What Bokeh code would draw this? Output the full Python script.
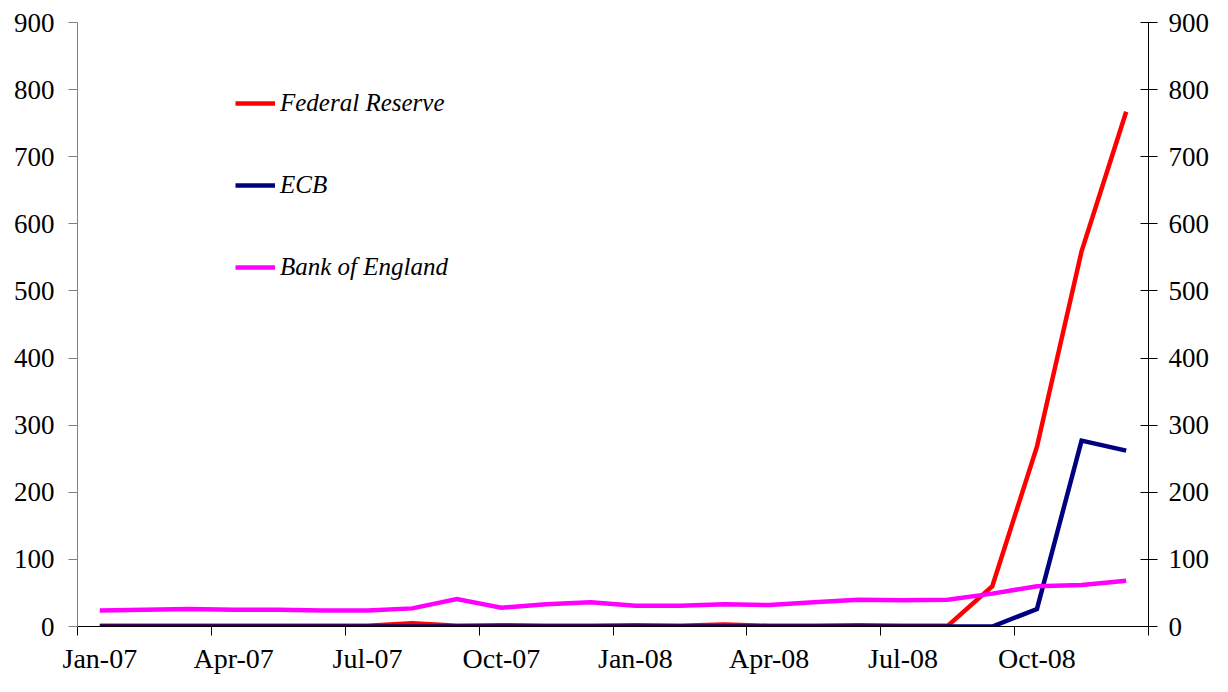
from bokeh.plotting import figure
from bokeh.models import (Range1d, LinearAxis, FixedTicker, Legend, LegendItem,
                          ColumnDataSource)
from bokeh.embed import file_html
from bokeh.resources import INLINE

months = ["Jan-07", "Feb-07", "Mar-07", "Apr-07", "May-07", "Jun-07",
          "Jul-07", "Aug-07", "Sep-07", "Oct-07", "Nov-07", "Dec-07",
          "Jan-08", "Feb-08", "Mar-08", "Apr-08", "May-08", "Jun-08",
          "Jul-08", "Aug-08", "Sep-08", "Oct-08", "Nov-08", "Dec-08"]
fed = [1, 1, 1, 1, 1, 1, 1, 5, 1, 2, 1, 1,
       2, 1, 3, 1, 1, 2, 1, 1, 60, 268, 559, 767]
ecb = [0, 0, 0, 0, 0, 0, 0, 0, 0, 0, 0, 0,
       0, 0, 0, 0, 0, 0, 0, 0, 0, 26, 277, 262]
boe = [24, 25, 26, 25, 25, 24, 24, 27, 41, 28, 33, 36,
       31, 31, 33, 32, 36, 40, 39, 40, 49, 60, 62, 68]
series_names = ["Federal Reserve", "ECB", "Bank of England"]
series_colors = ["#FF0000", "#000080", "#FF00FF"]
y_ticks = [0, 100, 200, 300, 400, 500, 600, 700, 800, 900]
label_months = months[::3]

xs = [i + 0.5 for i in range(len(months))]
src = ColumnDataSource(dict(x=xs, fed=fed, ecb=ecb, boe=boe))

FONT = "Liberation Serif"

p = figure(width=1212, height=676, output_backend="svg", toolbar_location=None,
           x_range=Range1d(0, len(months)), y_range=Range1d(0, 900),
           min_border_left=77, min_border_right=63, min_border_top=22,
           min_border_bottom=49)
p.grid.visible = False
p.outline_line_color = None
p.background_fill_color = "white"
p.border_fill_color = "white"

renderers = []
for col, color in zip(["fed", "ecb", "boe"], series_colors):
    r = p.line("x", col, source=src, line_color=color, line_width=4.5,
               line_join="miter")
    renderers.append(r)

# x axis
xaxis = p.xaxis[0]
label_pos = [xs[months.index(m)] for m in label_months]
xaxis.ticker = FixedTicker(ticks=label_pos,
                           minor_ticks=[i for i in range(0, len(months) + 1, 3)])
xaxis.major_label_overrides = {pos: m for pos, m in zip(label_pos, label_months)}
xaxis.major_tick_in = 0
xaxis.major_tick_out = 0
xaxis.minor_tick_in = 0
xaxis.minor_tick_out = 9
xaxis.minor_tick_line_color = "black"
xaxis.minor_tick_line_width = 1
xaxis.axis_line_color = "black"
xaxis.major_label_standoff = 7
xaxis.major_label_text_font = FONT
xaxis.major_label_text_font_size = "28px"
xaxis.major_label_text_color = "black"

# left y axis
yaxis = p.yaxis[0]
yaxis.ticker = FixedTicker(ticks=y_ticks)
yaxis.minor_tick_line_color = None
yaxis.major_tick_in = 0
yaxis.major_tick_out = 9
yaxis.major_tick_line_color = "#808080"
yaxis.axis_line_color = "#808080"
yaxis.major_label_standoff = 14
yaxis.major_label_text_font = FONT
yaxis.major_label_text_font_size = "27px"
yaxis.major_label_text_color = "black"

# right y axis
raxis = LinearAxis(ticker=FixedTicker(ticks=y_ticks))
raxis.minor_tick_line_color = None
raxis.major_tick_in = 8
raxis.major_tick_out = 9
raxis.major_tick_line_color = "black"
raxis.axis_line_color = "black"
raxis.major_label_standoff = 11
raxis.major_label_text_font = FONT
raxis.major_label_text_font_size = "27px"
raxis.major_label_text_color = "black"
p.add_layout(raxis, "right")

legend = Legend(items=[LegendItem(label=n, renderers=[r])
                       for n, r in zip(series_names, renderers)],
                location=(158, 345), orientation="vertical")
legend.border_line_alpha = 0
legend.background_fill_alpha = 0
legend.padding = 0
legend.margin = 0
legend.spacing = 54
legend.glyph_width = 40
legend.glyph_height = 20
legend.label_height = 20
legend.label_standoff = 5
legend.label_text_font = FONT
legend.label_text_font_style = "italic"
legend.label_text_font_size = "25px"
legend.label_text_color = "black"
legend.label_text_baseline = "middle"
p.add_layout(legend, "center")

open("out.html", "w").write(file_html(p, INLINE))
